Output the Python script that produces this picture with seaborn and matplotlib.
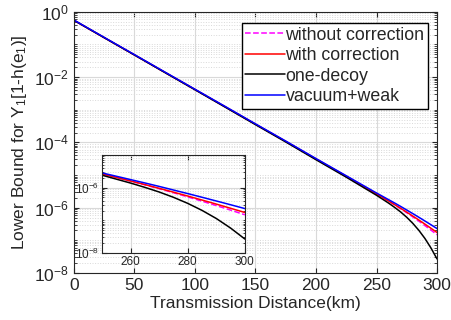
import matplotlib
matplotlib.use("Agg")
import matplotlib.pyplot as plt
from matplotlib.ticker import LogLocator, NullFormatter
import seaborn as sns
import pandas as pd
import numpy as np

sns.set_style("ticks")
plt.rcParams['font.family'] = ['Liberation Sans', 'DejaVu Sans']
plt.rcParams['mathtext.fontset'] = 'custom'
plt.rcParams['mathtext.rm'] = 'Liberation Sans'
plt.rcParams['mathtext.it'] = 'Liberation Sans'
plt.rcParams['axes.unicode_minus'] = False

# transmission distance (km)
dist = [0, 25, 50, 75, 100, 125, 150, 175, 200, 225,
        250, 255, 260, 265, 270, 275, 280, 285, 290, 295, 300]

# lower bound values
without_corr = [0.55, 0.162, 0.0479, 0.0141, 4.17e-3, 1.23e-3, 3.6e-4, 1.07e-4, 3.1e-5, 9.1e-6,
                2.63e-6, 2.06e-6, 1.59e-6, 1.22e-6, 9.29e-7, 7.0e-7, 5.22e-7, 3.86e-7, 2.83e-7,
                2.06e-7, 1.48e-7]
with_corr = [0.55, 0.162, 0.0479, 0.0141, 4.17e-3, 1.23e-3, 3.6e-4, 1.07e-4, 3.1e-5, 9.2e-6,
             2.63e-6, 2.06e-6, 1.60e-6, 1.24e-6, 9.53e-7, 7.28e-7, 5.54e-7, 4.18e-7, 3.14e-7,
             2.34e-7, 1.74e-7]
one_decoy = [0.55, 0.161, 0.0476, 0.0139, 4.1e-3, 1.2e-3, 3.5e-4, 1.03e-4, 2.95e-5, 8.6e-6,
             2.40e-6, 1.82e-6, 1.38e-6, 1.02e-6, 7.36e-7, 5.07e-7, 3.31e-7, 2.02e-7, 1.14e-7,
             5.82e-8, 2.69e-8]
vac_weak = [0.56, 0.165, 0.0488, 0.0144, 4.25e-3, 1.26e-3, 3.7e-4, 1.1e-4, 3.2e-5, 9.5e-6,
            2.82e-6, 2.23e-6, 1.76e-6, 1.39e-6, 1.09e-6, 8.46e-7, 6.58e-7, 5.08e-7, 3.91e-7,
            3.0e-7, 2.29e-7]

labels = ['without correction', 'with correction', 'one-decoy', 'vacuum+weak']
colors = ['#ff00ff', '#ff0000', '#000000', '#0000ff']
styles = ['--', '-', '-', '-']

df = pd.DataFrame({'dist': dist, labels[0]: without_corr, labels[1]: with_corr,
                   labels[2]: one_decoy, labels[3]: vac_weak})
long = df.melt(id_vars='dist', var_name='method', value_name='bound')

fig = plt.figure(figsize=(4.51, 3.2), dpi=100)
ax = fig.add_axes([0.164, 0.147, 0.805, 0.816])


def draw(a, data):
    for lab, c, ls in zip(labels, colors, styles):
        sub = data[data['method'] == lab]
        sns.lineplot(data=sub, x='dist', y='bound', ax=a, color=c, linestyle=ls,
                     linewidth=1.1, label=lab, estimator=None)


def style_grid(a):
    a.yaxis.set_minor_locator(LogLocator(base=10, subs=np.arange(1, 10), numticks=100))
    a.yaxis.set_minor_formatter(NullFormatter())
    a.grid(True, which='major', color='#d9d9d9', linewidth=0.8)
    a.grid(True, which='minor', axis='y', color='#d9d9d9', linestyle=':', linewidth=0.7)
    for s in a.spines.values():
        s.set_linewidth(0.8)
        s.set_color('#262626')


draw(ax, long)
ax.set_yscale('log')
ax.set_xlim(0, 300)
ax.set_ylim(1e-8, 1)
ax.set_xticks([0, 50, 100, 150, 200, 250, 300])
ax.set_yticks([1e0, 1e-2, 1e-4, 1e-6, 1e-8])
style_grid(ax)
ax.tick_params(which='both', direction='in', top=True, right=True, labelsize=12.5,
               labelcolor='#262626')
ax.tick_params(which='minor', length=2)
ax.set_xlabel('Transmission Distance(km)', fontsize=12.5, color='#262626', labelpad=2)
ax.set_ylabel('Lower Bound for Y$_1$[1-h(e$_1$)]', fontsize=12.5, color='#262626', labelpad=4)
ax.legend(loc='upper right', bbox_to_anchor=(428 / 451, 1 - 23 / 320),
          bbox_transform=fig.transFigure, borderaxespad=0,
          fontsize=12.8, frameon=True, fancybox=False,
          edgecolor='black', framealpha=1, handlelength=2.2, handletextpad=0.05,
          labelspacing=0.2, borderpad=0.2)

# inset zoom on 250-300 km
ins = fig.add_axes([0.226, 0.209, 0.317, 0.307])
draw(ins, long[long['dist'] >= 250])
ins.set_yscale('log')
ins.set_xlim(250, 300)
ins.set_ylim(1e-8, 1e-5)
ins.set_xticks([260, 280, 300])
ins.set_yticks([1e-6, 1e-8])
ins.set_xlabel('')
ins.set_ylabel('')
ins.legend().remove()
style_grid(ins)
ins.tick_params(which='both', direction='in', top=True, right=True, labelsize=8.5,
                labelcolor='#262626', pad=2)
ins.tick_params(which='minor', length=1.5)
ins.set_facecolor('white')

fig.savefig('out.png', dpi=100)
